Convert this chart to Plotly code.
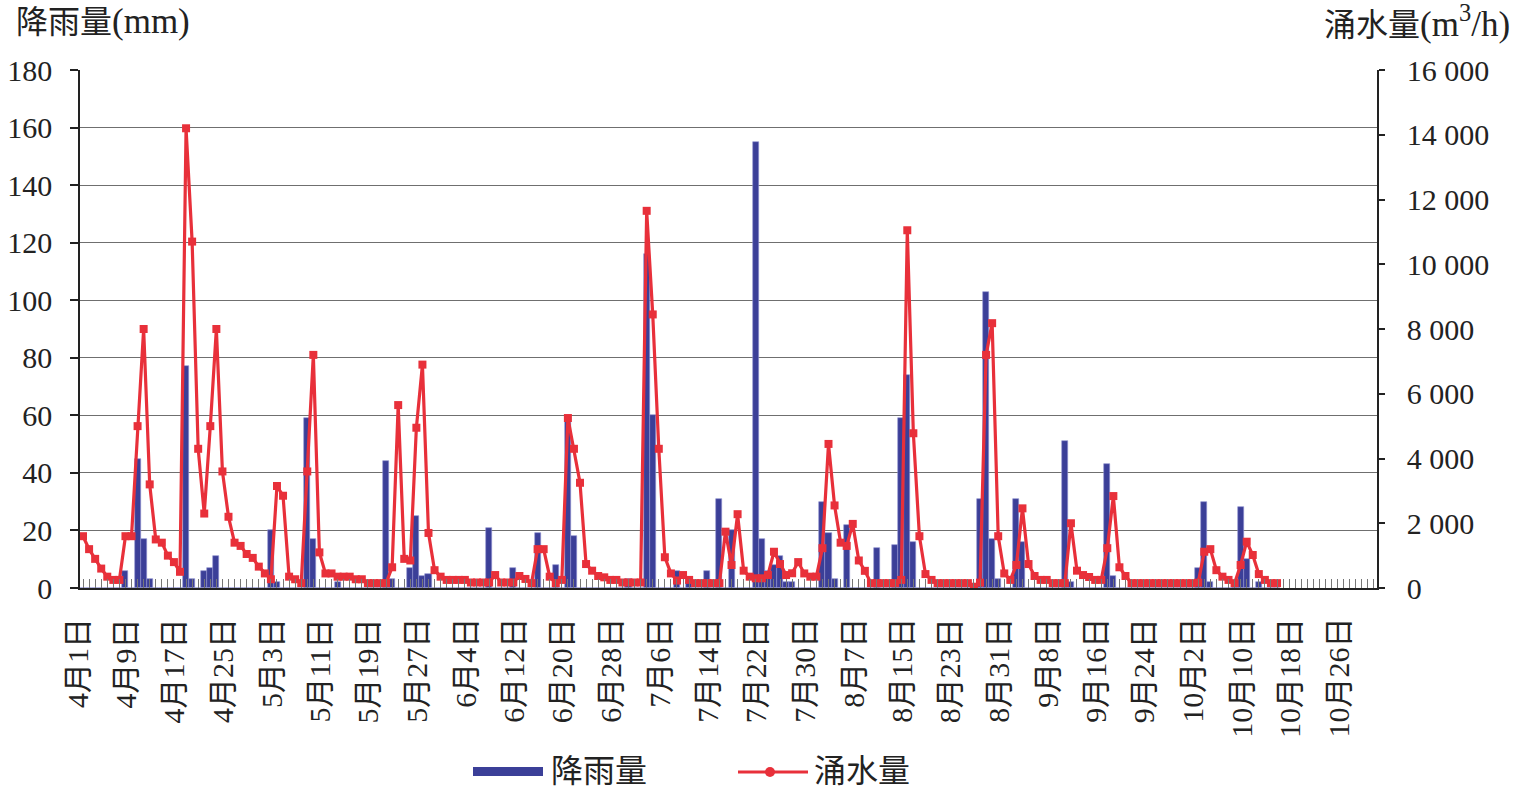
import datetime as dt
import plotly.graph_objects as go

# ---------------- data ----------------
start_date = dt.date(2021, 4, 1)
n_days = 214  # Apr 1 .. Oct 31
dates = [start_date + dt.timedelta(days=i) for i in range(n_days)]
date_labels = [f"{d.month}月{d.day}日" for d in dates]

# daily rainfall (mm), Apr 1 .. Oct 15
rain_mm = [
    0, 0, 0, 0, 0, 0, 0, 6, 0, 45,
    17, 3, 0, 0, 0, 0, 0, 77, 3, 0,
    6, 7, 11, 0, 0, 0, 0, 0, 0, 0,
    0, 20, 2, 0, 0, 0, 0, 59, 17, 0,
    0, 0, 2, 0, 0, 0, 0, 0, 0, 0,
    44, 3, 0, 0, 7, 25, 4, 5, 0, 0,
    0, 0, 0, 0, 0, 0, 0, 21, 0, 0,
    0, 7, 0, 0, 0, 19, 0, 0, 8, 0,
    59, 18, 0, 0, 0, 0, 0, 0, 0, 0,
    3, 0, 0, 116, 60, 0, 0, 0, 6, 0,
    2, 0, 0, 6, 0, 31, 0, 20, 0, 0,
    0, 155, 17, 6, 8, 11, 2, 2, 0, 0,
    0, 0, 30, 19, 3, 0, 22, 0, 0, 0,
    0, 14, 0, 0, 15, 59, 74, 16, 0, 0,
    0, 0, 0, 0, 0, 0, 0, 0, 31, 103,
    17, 3, 0, 0, 31, 16, 0, 0, 0, 0,
    0, 0, 51, 2, 0, 0, 0, 0, 0, 43,
    4, 0, 0, 0, 0, 0, 0, 0, 0, 0,
    0, 0, 0, 0, 7, 30, 2, 0, 0, 0,
    2, 28, 10, 0, 2, 0, 0, 0,
]

# daily water inflow (m3/h), Apr 1 .. Oct 15
inflow_m3h = [
    1600, 1200, 900, 600, 350, 250, 250, 1600, 1600, 5000,
    8000, 3200, 1500, 1400, 1000, 800, 500, 14200, 10700, 4300,
    2300, 5000, 8000, 3600, 2200, 1400, 1300, 1050, 930, 660,
    450, 270, 3150, 2850, 350, 270, 150, 3600, 7200, 1100,
    450, 450, 350, 350, 350, 270, 270, 150, 150, 150,
    150, 640, 5650, 900, 850, 4950, 6900, 1700, 550, 350,
    250, 250, 250, 250, 170, 170, 170, 170, 400, 170,
    170, 170, 370, 280, 150, 1200, 1200, 350, 150, 250,
    5250, 4300, 3250, 740, 535, 370, 330, 250, 250, 170,
    170, 170, 170, 11650, 8450, 4300, 950, 450, 230, 400,
    250, 150, 150, 150, 150, 150, 1740, 710, 2280, 535,
    350, 300, 300, 400, 1120, 740, 400, 455, 800, 450,
    350, 350, 1230, 4450, 2550, 1400, 1300, 1980, 850, 530,
    150, 150, 150, 150, 150, 250, 11050, 4780, 1600, 430,
    250, 150, 150, 150, 150, 150, 150, 40, 165, 7200,
    8180, 1600, 450, 250, 710, 2460, 740, 370, 250, 250,
    150, 150, 150, 2000, 535, 400, 340, 250, 250, 1230,
    2840, 640, 370, 150, 150, 150, 150, 150, 150, 150,
    150, 150, 150, 150, 165, 1120, 1200, 550, 350, 250,
    150, 710, 1430, 1020, 430, 250, 150, 150,
]

tick_days = list(range(0, n_days, 8))
tick_text = [date_labels[i] for i in tick_days]

rain_ticks = list(range(0, 181, 20))
flow_ticks = list(range(0, 16001, 2000))
flow_tick_text = ["0", "2 000", "4 000", "6 000", "8 000",
                  "10 000", "12 000", "14 000", "16 000"]

# ---------------- styling ----------------
FONT = "Liberation Serif, Noto Sans CJK SC, serif"
TXT = "#222222"
BLUE = "#3b3f98"
RED = "#e8303a"

W, H = 1513, 788
ML, MR, MT, MB = 80, 136, 70, 200
PW, PH = W - ML - MR, H - MT - MB


def px2x(px):
    return (px - ML) / PW


def py2y(py):
    return (H - MB - py) / PH


fig = go.Figure()

fig.add_trace(go.Bar(
    x=list(range(len(rain_mm))), y=rain_mm, name="降雨量",
    width=1.0,
    marker=dict(color=BLUE, line=dict(color="#8e92d0", width=0.6)),
    yaxis="y", showlegend=False,
))

fig.add_trace(go.Scatter(
    x=list(range(len(inflow_m3h))), y=inflow_m3h, name="涌水量",
    mode="lines+markers",
    line=dict(color=RED, width=3.2),
    marker=dict(symbol="square", size=8, color=RED),
    yaxis="y2", showlegend=False,
))

fig.update_layout(
    width=W, height=H, autosize=False,
    margin=dict(l=ML, r=MR, t=MT, b=MB, pad=0, autoexpand=False),
    paper_bgcolor="white", plot_bgcolor="white",
    font=dict(family=FONT, color=TXT),
    bargap=0,
    xaxis=dict(
        range=[-0.5, n_days - 0.5], automargin=False,
        tickmode="array", tickvals=tick_days,
        showticklabels=False, ticks="",
        showline=True, linecolor="#222", linewidth=1.5,
        showgrid=False, zeroline=False,
        minor=dict(ticks="inside", tick0=0, dtick=1, ticklen=9,
                   tickcolor="#777", tickwidth=1, showgrid=False),
    ),
    yaxis=dict(
        range=[0, 180], automargin=False, tickmode="array", tickvals=rain_ticks,
        tickfont=dict(family=FONT, size=30, color=TXT),
        ticks="outside", ticklen=8, tickcolor="#222", tickwidth=1.5,
        ticklabelstandoff=12,
        showline=True, linecolor="#222", linewidth=1.5,
        showgrid=True, gridcolor="#6f6f6f", gridwidth=1.2,
        zeroline=False,
    ),
    yaxis2=dict(
        range=[0, 16000], automargin=False, overlaying="y", side="right",
        tickmode="array", tickvals=flow_ticks, ticktext=flow_tick_text,
        tickfont=dict(family=FONT, size=30, color=TXT),
        ticks="outside", ticklen=6, tickcolor="#222", tickwidth=1.5,
        ticklabelstandoff=16,
        showline=True, linecolor="#222", linewidth=1.5,
        showgrid=False, zeroline=False,
    ),
)

# rotated date labels under the axis (paper x follows the axis range)
x_lo, x_hi = -0.5, n_days - 0.5
for d, t in zip(tick_days, tick_text):
    fig.add_annotation(text=t, xref="paper", yref="paper",
                       x=(d - 1.0 - x_lo) / (x_hi - x_lo), y=py2y(616),
                       xanchor="center", yanchor="top",
                       textangle=-90, showarrow=False,
                       font=dict(family=FONT, size=30, color=TXT))

# axis titles
fig.add_annotation(text="降雨量<span style='font-size:35px'>(mm)</span>",
                   xref="paper", yref="paper",
                   x=px2x(14), y=py2y(21), xanchor="left", yanchor="middle",
                   showarrow=False, font=dict(family=FONT, size=32, color=TXT))
fig.add_annotation(text="涌水量<span style='font-size:35px'>(m<sup>3</sup>/h)</span>",
                   xref="paper", yref="paper",
                   x=px2x(1512), y=py2y(21), xanchor="right", yanchor="middle",
                   showarrow=False, font=dict(family=FONT, size=32, color=TXT))

# legend (drawn manually to match the wide swatches)
fig.add_shape(type="rect", xref="paper", yref="paper",
              x0=px2x(473), x1=px2x(543), y0=py2y(776), y1=py2y(767),
              fillcolor=BLUE, line=dict(width=0))
fig.add_annotation(text="降雨量", xref="paper", yref="paper",
                   x=px2x(549), y=py2y(771), xanchor="left", yanchor="middle",
                   showarrow=False, font=dict(family=FONT, size=32, color=TXT))
fig.add_shape(type="line", xref="paper", yref="paper",
              x0=px2x(738), x1=px2x(808), y0=py2y(772), y1=py2y(772),
              line=dict(color=RED, width=3))
fig.add_shape(type="circle", xref="paper", yref="paper",
              x0=px2x(765), x1=px2x(775), y0=py2y(777), y1=py2y(767),
              fillcolor=RED, line=dict(width=0))
fig.add_annotation(text="涌水量", xref="paper", yref="paper",
                   x=px2x(812), y=py2y(771), xanchor="left", yanchor="middle",
                   showarrow=False, font=dict(family=FONT, size=32, color=TXT))

fig.write_html("out.html", config={"displayModeBar": False},
               post_script="document.body.style.margin='0';")
